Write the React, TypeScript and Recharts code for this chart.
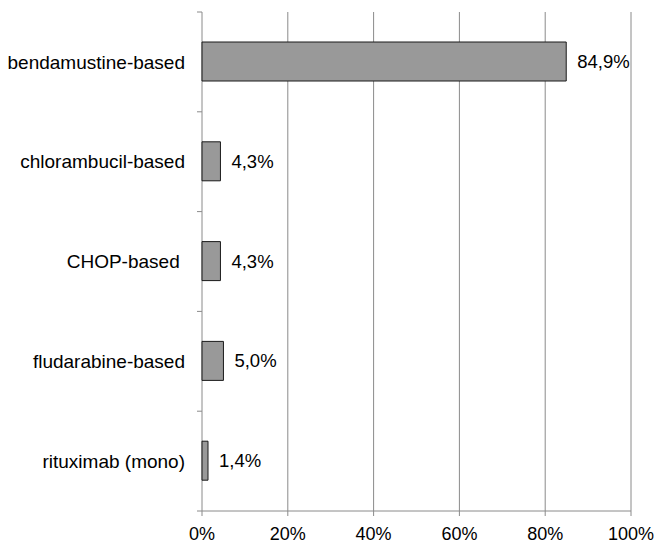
import React from "react";
import { BarChart, Bar, XAxis, YAxis, CartesianGrid, LabelList } from "recharts";

const regimens = ["bendamustine-based", "chlorambucil-based", "CHOP-based ", "fludarabine-based", "rituximab (mono)"];
const shares = [84.9, 4.3, 4.3, 5.0, 1.4];
const xTicks = [0, 20, 40, 60, 80, 100];

const data = regimens.map((name, i) => ({ name, share: shares[i] }));

const FONT = "'Liberation Sans', Arial, sans-serif";
const AXIS = "#8a8a8a";
const TICK_SIZE = 5;
const TICK_MARGIN = 12;

const fmtPct = (v: number) => `${v.toFixed(1).replace(".", ",")}%`;

// category labels, with the tick marks drawn on the band edges (Excel style)
function CategoryTick(props: any) {
  const { x, y, payload, index, visibleTicksCount } = props;
  const half = payload?.offset ?? 0;
  const x1 = x + TICK_MARGIN;
  const x2 = x1 + TICK_SIZE;
  return (
    <g>
      <line x1={x1} x2={x2} y1={y - half} y2={y - half} stroke={AXIS} />
      {index === visibleTicksCount - 1 && (
        <line x1={x1} x2={x2} y1={y + half} y2={y + half} stroke={AXIS} />
      )}
      <text
        x={x}
        y={y}
        dy="0.355em"
        textAnchor="end"
        fill="#000"
        fontSize={19}
        fontFamily={FONT}
        style={{ whiteSpace: "pre" }}
      >
        {payload.value}
      </text>
    </g>
  );
}

export default function App() {
  return (
    <div style={{ position: "absolute", left: 0, top: 0, fontFamily: FONT }}>
      <BarChart
        width={657}
        height={543}
        data={data}
        layout="vertical"
        margin={{ top: 12, right: 26, bottom: 0, left: 0 }}
      >
        <CartesianGrid horizontal={false} stroke={AXIS} strokeWidth={1} />
        <XAxis
          type="number"
          domain={[0, 100]}
          ticks={xTicks}
          tickFormatter={(v) => `${v}%`}
          height={32}
          stroke={AXIS}
          tickSize={TICK_SIZE}
          tickMargin={11}
          tick={{ fill: "#000", fontSize: 18, fontFamily: FONT }}
        />
        <YAxis
          type="category"
          dataKey="name"
          width={202}
          axisLine={false}
          tickLine={false}
          tickSize={TICK_SIZE}
          tickMargin={TICK_MARGIN}
          tick={<CategoryTick />}
        />
        <Bar
          dataKey="share"
          fill="#999999"
          stroke="#1a1a1a"
          strokeWidth={1}
          barSize={39}
          isAnimationActive={false}
        >
          <LabelList
            dataKey="share"
            position="right"
            offset={11}
            formatter={(v: any) => fmtPct(Number(v))}
            style={{ fill: "#000", fontSize: 18.5, fontFamily: FONT }}
          />
        </Bar>
      </BarChart>
    </div>
  );
}
